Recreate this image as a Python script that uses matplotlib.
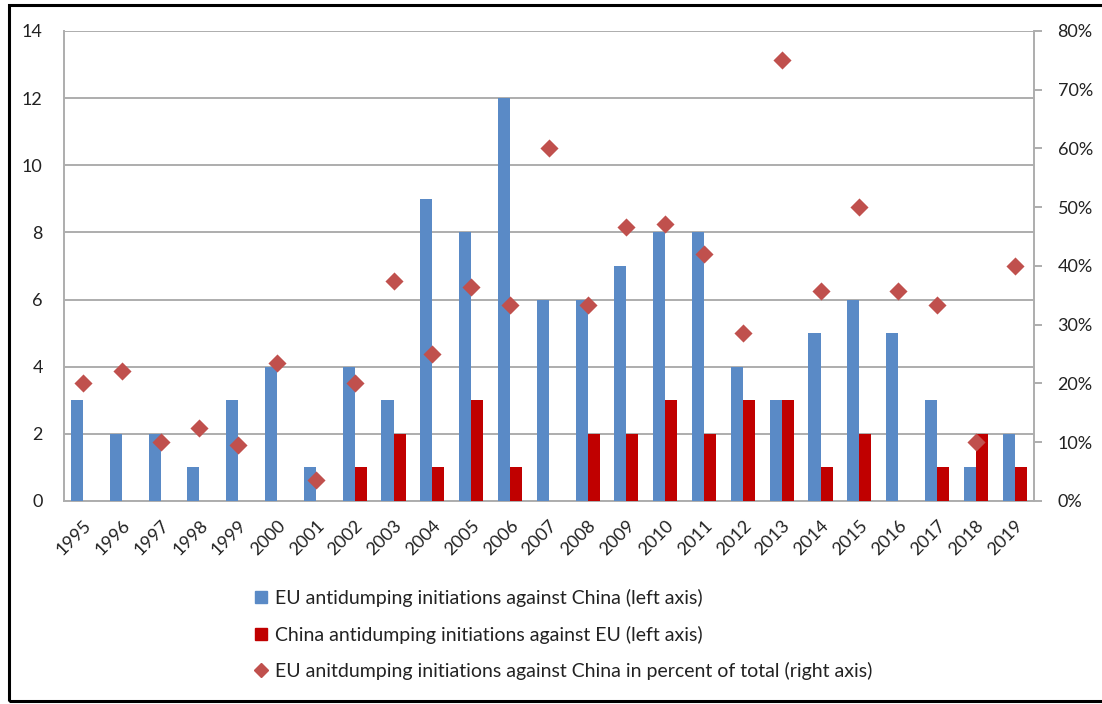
import matplotlib
matplotlib.use("Agg")
import matplotlib.pyplot as plt
from matplotlib.lines import Line2D
from matplotlib.patches import Rectangle
import numpy as np

plt.rcParams['font.family'] = ['Lato', 'DejaVu Sans']

# Data
years = [str(y) for y in range(1995, 2020)]
eu_vs_china = [3, 2, 2, 1, 3, 4, 1, 4, 3, 9, 8, 12, 6, 6, 7, 8, 8, 4, 3, 5, 6, 5, 3, 1, 2]
china_vs_eu = [0, 0, 0, 0, 0, 0, 0, 1, 2, 1, 3, 1, 0, 2, 2, 3, 2, 3, 3, 1, 2, 0, 1, 2, 1]
eu_share_pct = [20.0, 22.2, 10.0, 12.5, 9.5, 23.5, 3.6, 20.0, 37.5, 25.0, 36.4, 33.3, 60.0,
                33.3, 46.7, 47.1, 42.1, 28.6, 75.0, 35.7, 50.0, 35.7, 33.3, 10.0, 40.0]

labels = ["EU antidumping initiations against China (left axis)",
          "China antidumping initiations against EU (left axis)",
          "EU anitdumping initiations against China in percent of total (right axis)"]

BLUE = '#5A8AC6'
RED = '#C00000'
DIAMOND = '#C0504D'
GRID = '#ADADAD'
TXT = '#222222'

fig = plt.figure(figsize=(11.02, 7.04), dpi=100)
ax = fig.add_axes([0.0577, 0.2884, 0.8806, 0.6676])
ax2 = ax.twinx()

x = np.arange(len(years))
w = 0.31
ax.bar(x - w / 2, eu_vs_china, width=w, color=BLUE, zorder=3)
ax.bar(x + w / 2, china_vs_eu, width=w, color=RED, zorder=3)

ax.set_xlim(-0.5, len(years) - 0.5)
ax.set_ylim(0, 14)
ax.set_yticks(range(0, 15, 2))
ax.grid(axis='y', color=GRID, linewidth=1.4, zorder=0)
ax.set_axisbelow(True)
ax.tick_params(axis='y', length=0, pad=15, labelsize=13, labelcolor=TXT)
ax.set_xticks(x)
ax.set_xticklabels(years, rotation=45, ha='right', rotation_mode='anchor',
                   fontsize=13, color=TXT)
ax.tick_params(axis='x', length=0, pad=12)
for s in ['top', 'right']:
    ax.spines[s].set_visible(False)
ax.spines['left'].set_color(GRID)
ax.spines['left'].set_linewidth(1.4)
ax.spines['bottom'].set_color(GRID)
ax.spines['bottom'].set_linewidth(1.4)

ax2.scatter(x, eu_share_pct, marker='D', s=85, color=DIAMOND, zorder=5, linewidths=0)
ax2.set_ylim(0, 80)
ax2.set_yticks(range(0, 81, 10))
ax2.set_yticklabels([f"{v}%" for v in range(0, 81, 10)])
ax2.tick_params(axis='y', length=6, width=1.4, color=GRID, pad=11,
                labelsize=13, labelcolor=TXT)
for s in ['top', 'left', 'bottom']:
    ax2.spines[s].set_visible(False)
ax2.spines['right'].set_color(GRID)
ax2.spines['right'].set_linewidth(1.4)

handles = [Line2D([], [], linestyle='none', marker='s', markersize=8, color=BLUE),
           Line2D([], [], linestyle='none', marker='s', markersize=8, color=RED),
           Line2D([], [], linestyle='none', marker='D', markersize=7, color=DIAMOND)]
fig.legend(handles, labels, loc='upper left', bbox_to_anchor=(0.222, 0.177),
           frameon=False, fontsize=14, labelspacing=0.95, handlelength=0.7,
           handletextpad=0.35, borderpad=0, labelcolor=TXT)

# outer frame around the chart
fig.add_artist(Rectangle((8.5 / 1102, 3 / 704), 1.2, 1 - 8 / 704, transform=fig.transFigure,
                         fill=False, edgecolor='black', linewidth=2.2, clip_on=False))

fig.savefig('out.png', dpi=100)
